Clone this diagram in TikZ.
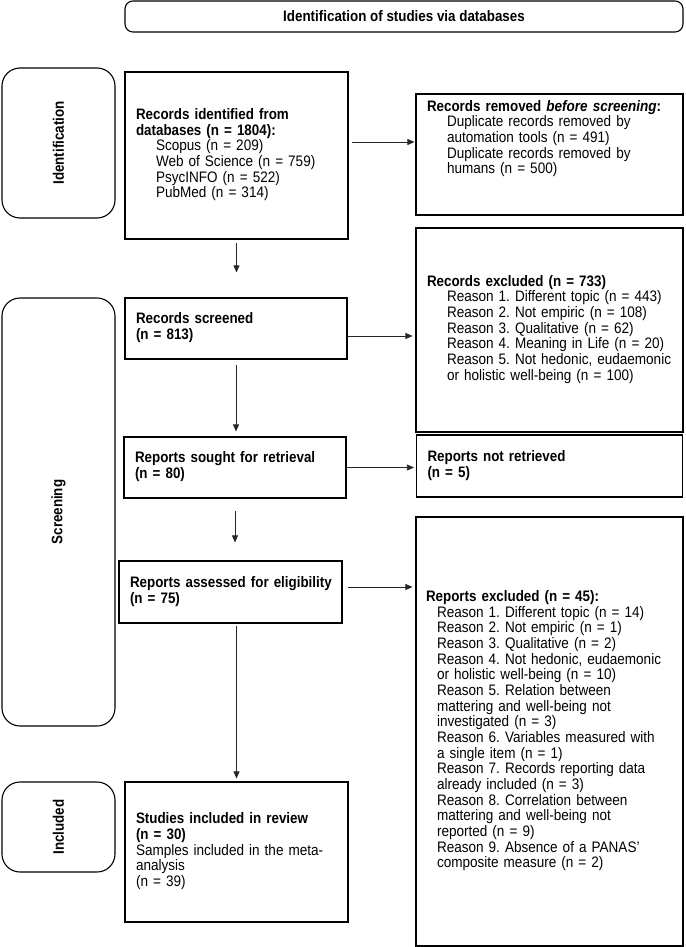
\documentclass[tikz,border=0pt]{standalone}
\usepackage{fontspec}
\setmainfont[FakeStretch=0.89, BoldFeatures={FakeStretch=0.88}]{Liberation Sans}
\usetikzlibrary{positioning,arrows.meta,calc}

\newcommand{\indt}[1][20pt]{\hspace*{#1}}
\newcommand{\boxfont}{\fontsize{15.2}{15.5}\selectfont\frenchspacing}
\newcommand{\lines}[1]{\begin{tabular}{@{}l@{}}#1\end{tabular}}

\begin{document}
\begin{tikzpicture}[x=1pt, y=-1pt,
  box/.style={draw, line width=1.1pt, inner xsep=11pt, inner ysep=0pt, align=left, font=\boxfont},
  side/.style={draw, line width=1.1pt, rounded corners=18pt, rotate=90, minimum height=113pt, font=\boxfont\bfseries},
  arr/.style={-{Triangle[length=7pt,width=6pt]}, line width=0.7pt, black!85}]
\useasboundingbox (0,0) rectangle (685,947);

% phases
\node[draw, line width=1.1pt, rounded corners=8pt, minimum width=558pt, minimum height=31pt, font=\boxfont\bfseries] (head) at (404,16.5) {Identification of studies via databases};
\node[side, minimum width=150pt] (sideI) at (58.5,143) {Identification};
\node[side, minimum width=428pt] (sideS) at (58.5,512) {Screening};
\node[side, minimum width=90pt] (sideN) at (58.5,827) {Included};

% main column
\node[box, text width=201pt, minimum height=167pt] (A) at (236.5,155.5) {\lines{\textbf{Records identified from}\\ \textbf{databases (n = 1804):}\\ \indt Scopus (n = 209)\\ \indt Web of Science (n = 759)\\ \indt PsycINFO (n = 522)\\ \indt PubMed (n = 314)}};
\node[box, text width=200pt, minimum height=61pt] (C) at (236,328.5) {\lines{\textbf{Records screened}\\ \textbf{(n = 813)}}};
\node[box, text width=200pt, minimum height=61pt] (E) at (235,467.5) {\lines{\textbf{Reports sought for retrieval}\\ \textbf{(n = 80)}}};
\node[box, text width=201pt, minimum height=62pt] (G) at (230.5,592) {\lines{\textbf{Reports assessed for eligibility}\\ \textbf{(n = 75)}}};
\node[box, text width=201pt, minimum height=140pt] (I) at (236.5,852) {\lines{\textbf{Studies included in review}\\ \textbf{(n = 30)}\\ Samples included in the meta-\\ analysis\\ (n = 39)}};

% right column
\node[box, text width=245pt, minimum height=121pt] (B) at (549.5,154.5) {\parbox[t][109pt][t]{245pt}{\lines{\textbf{Records removed \textit{before screening}:}\\ \indt Duplicate records removed by\\ \indt automation tools (n = 491)\\ \indt Duplicate records removed by\\ \indt humans (n = 500)}}};
\node[box, text width=245pt, minimum height=204pt] (D) at (549.5,330) {\lines{\textbf{Records excluded (n = 733)}\\ \indt Reason 1. Different topic (n = 443)\\ \indt Reason 2. Not empiric (n = 108)\\ \indt Reason 3. Qualitative (n = 62)\\ \indt Reason 4. Meaning in Life (n = 20)\\ \indt Reason 5. Not hedonic, eudaemonic\\ \indt or holistic well-being (n = 100)}};
\node[box, text width=244pt, minimum height=62pt] (F) at (549.5,466) {\lines{\textbf{Reports not retrieved}\\ \textbf{(n = 5)}}};
\node[box, text width=247pt, minimum height=429pt, inner xsep=10pt] (H) at (549.5,731.5) {\lines{\textbf{Reports excluded (n = 45):}\\ \indt[11pt]Reason 1. Different topic (n = 14)\\ \indt[11pt]Reason 2. Not empiric (n = 1)\\ \indt[11pt]Reason 3. Qualitative (n = 2)\\ \indt[11pt]Reason 4. Not hedonic, eudaemonic\\ \indt[11pt]or holistic well-being (n = 10)\\ \indt[11pt]Reason 5. Relation between\\ \indt[11pt]mattering and well-being not\\ \indt[11pt]investigated (n = 3)\\ \indt[11pt]Reason 6. Variables measured with\\ \indt[11pt]a single item (n = 1)\\ \indt[11pt]Reason 7. Records reporting data\\ \indt[11pt]already included (n = 3)\\ \indt[11pt]Reason 8. Correlation between\\ \indt[11pt]mattering and well-being not\\ \indt[11pt]reported (n = 9)\\ \indt[11pt]Reason 9. Absence of a PANAS'\\ \indt[11pt]composite measure (n = 2)}};

% flow
\draw[arr, shorten <=3pt, shorten >=1pt] ([yshift=13.5pt]A.east) -- ([yshift=13.5pt]A.east -| B.west);
\draw[arr, shorten <=3pt, shorten >=25pt] (A.south) -- (A.south |- C.north);
\draw[arr, shorten >=3pt] ([yshift=-7.5pt]C.east) -- ([yshift=-7.5pt]C.east -| D.west);
\draw[arr, shorten <=5pt, shorten >=5pt] (C.south) -- (C.south |- E.north);
\draw[arr, shorten >=2pt] (E.east) -- (E.east -| F.west);
\draw[arr, shorten <=12pt, shorten >=18pt] (E.south) -- (E.south |- G.north);
\draw[arr, shorten <=5pt, shorten >=3pt] ([yshift=5pt]G.east) -- ([yshift=5pt]G.east -| H.west);
\draw[arr, shorten <=2pt, shorten >=3pt] (G.south -| I.north) -- (I.north);
\end{tikzpicture}
\end{document}
